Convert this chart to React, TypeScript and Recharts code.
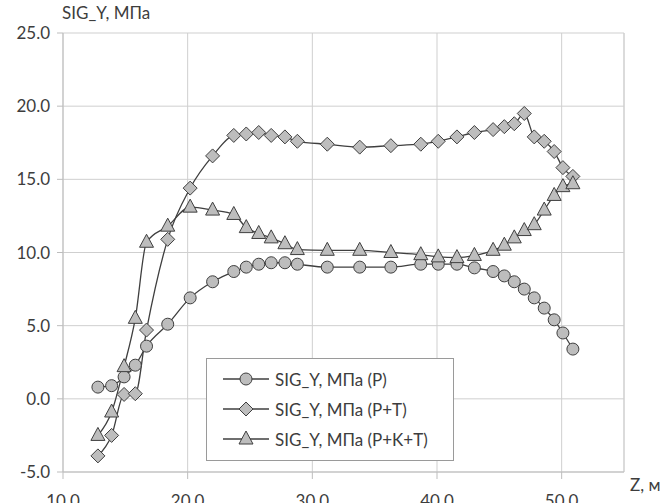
import React from "react";
import {
  LineChart,
  Line,
  XAxis,
  YAxis,
  CartesianGrid,
  ReferenceLine,
} from "recharts";

// Z coordinate of each computed point, m
const zPoints = [
  12.8, 13.9, 14.9, 15.8, 16.7, 18.4, 20.2, 22.0, 23.7, 24.7, 25.7, 26.7, 27.8,
  28.8, 31.2, 33.8, 36.3, 38.7, 40.1, 41.6, 43.0, 44.5, 45.4, 46.2, 47.0, 47.8,
  48.6, 49.4, 50.1, 50.9,
];

// SIG_Y, MPa for each load case
const sigP = [
  0.8, 0.9, 1.5, 2.3, 3.6, 5.1, 6.9, 8.0, 8.7, 9.0, 9.2, 9.3, 9.3, 9.2, 9.0,
  9.0, 9.0, 9.2, 9.2, 9.2, 8.95, 8.7, 8.4, 8.0, 7.5, 6.9, 6.2, 5.4, 4.5, 3.4,
];
const sigPT = [
  -3.9, -2.5, 0.3, 0.35, 4.7, 10.9, 14.4, 16.6, 18.0, 18.1, 18.2, 18.0, 17.9,
  17.6, 17.4, 17.2, 17.3, 17.4, 17.6, 17.9, 18.2, 18.4, 18.6, 18.8, 19.5, 17.9,
  17.6, 16.9, 15.8, 15.2,
];
const sigPKT = [
  -2.5, -0.9, 2.2, 5.5, 10.7, 11.8, 13.1, 12.9, 12.6, 11.7, 11.3, 11.0, 10.6,
  10.2, 10.15, 10.15, 10.0, 9.85, 9.7, 9.65, 9.8, 10.15, 10.5, 11.0, 11.5, 11.9,
  12.9, 13.9, 14.5, 14.7,
];

const xTicks = [10, 20, 30, 40, 50];
const yTicks = [-5, 0, 5, 10, 15, 20, 25];
const seriesNames = ["SIG_Y, МПа (P)", "SIG_Y, МПа (P+T)", "SIG_Y, МПа (P+K+T)"];
const seriesKeys = ["p", "pt", "pkt"];
const seriesShapes = ["circle", "diamond", "triangle"];

const data = zPoints.map((z, i) => ({
  z,
  p: sigP[i],
  pt: sigPT[i],
  pkt: sigPKT[i],
}));

const FONT = "Lato, 'Open Sans', sans-serif";
const TEXT = "#3d3d3d";
const LINE = "#3f3f3f";
const FILL = "#bdbdbd";
const GRID = "#cfcfcf";

function Marker({ shape, cx, cy }: { shape: string; cx: number; cy: number }) {
  if (shape === "circle") {
    return <circle cx={cx} cy={cy} r={6} fill={FILL} stroke={LINE} strokeWidth={1} />;
  }
  if (shape === "diamond") {
    const s = 7;
    return (
      <path
        d={`M${cx},${cy - s}L${cx + s},${cy}L${cx},${cy + s}L${cx - s},${cy}Z`}
        fill={FILL}
        stroke={LINE}
        strokeWidth={1}
      />
    );
  }
  return (
    <path
      d={`M${cx},${cy - 8}L${cx + 7},${cy + 5}L${cx - 7},${cy + 5}Z`}
      fill={FILL}
      stroke={LINE}
      strokeWidth={1}
    />
  );
}

function LegendBox() {
  return (
    <div
      style={{
        position: "absolute",
        left: 206,
        top: 358,
        width: 246,
        height: 101,
        border: "1px solid #9a9a9a",
        background: "#fff",
        fontFamily: FONT,
        fontSize: 17,
        color: TEXT,
      }}
    >
      {seriesNames.map((name, i) => (
        <div
          key={name}
          style={{ position: "absolute", left: 16, top: 8 + i * 30, height: 24, display: "flex", alignItems: "center" }}
        >
          <svg width={46} height={24}>
            <line x1={0} y1={12} x2={46} y2={12} stroke={LINE} strokeWidth={1.3} />
            <Marker shape={seriesShapes[i]} cx={23} cy={12} />
          </svg>
          <span style={{ marginLeft: 6, whiteSpace: "nowrap" }}>{name}</span>
        </div>
      ))}
    </div>
  );
}

export default function App() {
  return (
    <div style={{ position: "absolute", left: 0, top: 0, width: 667, height: 520, background: "#fff" }}>
      <div
        style={{ position: "absolute", left: 62, top: 2, fontFamily: FONT, fontSize: 17, color: TEXT, whiteSpace: "nowrap" }}
      >
        SIG_Y, МПа
      </div>
      <div
        style={{ position: "absolute", left: 630, top: 474, fontFamily: FONT, fontSize: 17, color: TEXT, whiteSpace: "nowrap" }}
      >
        Z, м
      </div>
      <LineChart
        width={667}
        height={520}
        data={data}
        margin={{ top: 33, right: 43, bottom: 0, left: 0 }}
        style={{ fontFamily: FONT }}
      >
        <CartesianGrid stroke={GRID} strokeWidth={1} />
        <ReferenceLine x={55} stroke={GRID} strokeWidth={1} />
        <XAxis
          dataKey="z"
          type="number"
          domain={[10, 55]}
          ticks={xTicks}
          allowDataOverflow
          height={48}
          tickSize={7}
          tickMargin={16}
          tickFormatter={(v: number) => v.toFixed(1)}
          stroke="#bdbdbd"
          tick={{ fill: TEXT, fontSize: 17 }}
        />
        <YAxis
          type="number"
          domain={[-5, 25]}
          ticks={yTicks}
          width={63}
          tickSize={6}
          tickMargin={7}
          tickFormatter={(v: number) => v.toFixed(1)}
          stroke="#bdbdbd"
          tick={{ fill: TEXT, fontSize: 17 }}
        />
        {seriesKeys.map((key, i) => (
          <Line
            key={key}
            dataKey={key}
            type="monotoneX"
            stroke={LINE}
            strokeWidth={1.3}
            isAnimationActive={false}
            dot={(props: any) => (
              <Marker key={`${key}-${props.index}`} shape={seriesShapes[i]} cx={props.cx} cy={props.cy} />
            )}
            activeDot={false}
          />
        ))}
      </LineChart>
      <LegendBox />
    </div>
  );
}
